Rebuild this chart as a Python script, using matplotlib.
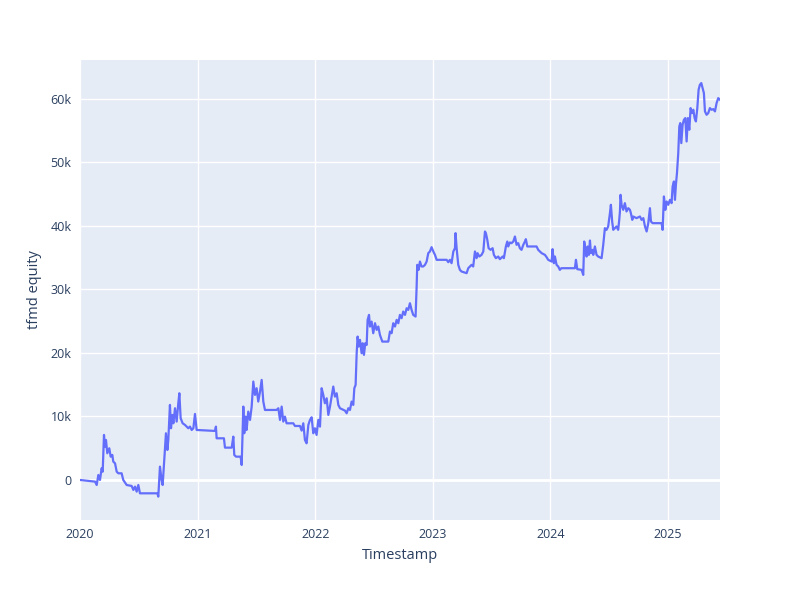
import numpy as np
import pandas as pd
import matplotlib
matplotlib.use("Agg")
import matplotlib.pyplot as plt
import matplotlib.dates as mdates
from matplotlib.ticker import FuncFormatter

plt.rcParams['font.family'] = ['Open Sans', 'DejaVu Sans']

# dates as decimal years, equity in thousands
annees = [
    2020.000, 2020.128, 2020.142, 2020.156, 2020.170, 2020.184, 2020.193, 2020.204, 2020.213, 2020.221,
    2020.232, 2020.249, 2020.261, 2020.275, 2020.283, 2020.298, 2020.312, 2020.326, 2020.354, 2020.368,
    2020.397, 2020.439, 2020.454, 2020.468, 2020.482, 2020.496, 2020.510, 2020.658, 2020.666, 2020.680,
    2020.694, 2020.703, 2020.714, 2020.723, 2020.731, 2020.743, 2020.751, 2020.765, 2020.774, 2020.785,
    2020.794, 2020.808, 2020.822, 2020.836, 2020.845, 2020.856, 2020.873, 2020.893, 2020.921, 2020.935,
    2020.950, 2020.964, 2020.978, 2020.992, 2021.148, 2021.156, 2021.162, 2021.224, 2021.233, 2021.290,
    2021.304, 2021.312, 2021.327, 2021.366, 2021.375, 2021.389, 2021.397, 2021.409, 2021.417, 2021.431,
    2021.446, 2021.460, 2021.474, 2021.488, 2021.502, 2021.516, 2021.531, 2021.545, 2021.559, 2021.573,
    2021.672, 2021.687, 2021.701, 2021.715, 2021.729, 2021.743, 2021.757, 2021.814, 2021.828, 2021.871,
    2021.885, 2021.899, 2021.913, 2021.927, 2021.942, 2021.956, 2021.970, 2021.984, 2021.998, 2022.012,
    2022.027, 2022.041, 2022.055, 2022.069, 2022.083, 2022.098, 2022.112, 2022.126,
    2022.154, 2022.168, 2022.183, 2022.197, 2022.211, 2022.253, 2022.268, 2022.282, 2022.296, 2022.310,
    2022.324, 2022.333, 2022.344, 2022.353, 2022.361, 2022.370, 2022.381, 2022.395, 2022.404, 2022.415,
    2022.426, 2022.438, 2022.446, 2022.458, 2022.466, 2022.480, 2022.494, 2022.509, 2022.523, 2022.537,
    2022.551, 2022.571, 2022.622, 2022.636, 2022.650, 2022.664, 2022.679, 2022.693, 2022.707, 2022.721,
    2022.735, 2022.749, 2022.764, 2022.778, 2022.792, 2022.806, 2022.820, 2022.834, 2022.854, 2022.863,
    2022.868, 2022.880, 2022.891, 2022.905, 2022.919, 2022.934, 2022.948, 2022.962, 2022.976, 2022.990,
    2023.005, 2023.019, 2023.033, 2023.118, 2023.132, 2023.146, 2023.160, 2023.175, 2023.189, 2023.194,
    2023.203, 2023.217, 2023.231, 2023.245, 2023.288, 2023.302, 2023.316,
    2023.330, 2023.344, 2023.359, 2023.373, 2023.381, 2023.396, 2023.415, 2023.430, 2023.444, 2023.452,
    2023.464, 2023.475, 2023.492, 2023.509, 2023.520, 2023.537, 2023.557, 2023.571, 2023.594, 2023.605,
    2023.622, 2023.634, 2023.642, 2023.656, 2023.670, 2023.685, 2023.699, 2023.713, 2023.727, 2023.741,
    2023.755, 2023.770, 2023.784, 2023.792, 2023.804, 2023.883, 2023.897, 2023.926, 2023.954, 2023.968,
    2023.982, 2024.011, 2024.019, 2024.030, 2024.039, 2024.053, 2024.067, 2024.081, 2024.093, 2024.209,
    2024.218, 2024.229, 2024.266, 2024.280, 2024.288, 2024.300, 2024.308, 2024.317, 2024.328, 2024.337,
    2024.345, 2024.359, 2024.365, 2024.379, 2024.393, 2024.407, 2024.436, 2024.450, 2024.464, 2024.478,
    2024.492, 2024.507, 2024.515, 2024.526, 2024.535, 2024.549, 2024.563, 2024.577, 2024.586, 2024.592,
    2024.597, 2024.606, 2024.620, 2024.634, 2024.648, 2024.663, 2024.677, 2024.685, 2024.697, 2024.705,
    2024.733, 2024.762,
    2024.776, 2024.791, 2024.805, 2024.819, 2024.833, 2024.847, 2024.856, 2024.870, 2024.946, 2024.955,
    2024.966, 2024.978, 2024.989, 2025.003, 2025.017, 2025.031, 2025.040, 2025.051, 2025.060, 2025.068,
    2025.077, 2025.088, 2025.097, 2025.105, 2025.114, 2025.125, 2025.136, 2025.148, 2025.159, 2025.170,
    2025.182, 2025.193, 2025.204, 2025.216, 2025.227, 2025.238, 2025.250, 2025.261, 2025.272, 2025.284,
    2025.295, 2025.306, 2025.315, 2025.329, 2025.343, 2025.357, 2025.371, 2025.386, 2025.400, 2025.414,
    2025.428, 2025.443,
]
equity_k = [
    0.00, -0.26, -0.79, 0.79, 0.00, 1.84, 1.31, 7.09, 5.25, 6.30,
    4.20, 4.99, 3.67, 3.94, 2.89, 2.62, 1.31, 1.05, 1.05, 0.00,
    -0.79, -0.94, -1.57, -1.05, -1.84, -0.79, -2.10, -2.10, -2.62, 2.10,
    0.00, -0.79, 2.36, 4.72, 7.35, 4.72, 6.30, 11.81, 8.14, 10.24,
    8.92, 11.29, 9.19, 12.07, 13.65, 9.71, 8.92, 8.66, 8.14, 8.40,
    7.87, 8.14, 10.39, 7.87, 7.72, 8.40, 6.56, 6.56, 5.09, 5.09,
    6.82, 3.94, 3.67, 3.67, 2.36, 11.55, 7.35, 9.97, 7.87, 10.76,
    9.45, 11.55, 15.49, 13.39, 14.44, 12.34, 13.91, 15.75, 12.34, 11.02,
    11.02, 11.29, 9.45, 11.55, 9.19, 9.97, 8.92, 8.92, 8.50, 8.50,
    7.77, 8.92, 6.30, 5.77, 8.66, 9.45, 9.87, 7.35, 8.14, 7.09,
    9.45, 8.40, 14.44, 13.39, 12.07, 12.86, 10.24, 11.55,
    14.70, 13.12, 13.65, 11.81, 11.29, 10.92, 10.50, 11.29, 11.02, 12.34,
    11.81, 14.44, 14.96, 19.95, 22.57, 21.00, 22.05, 19.95, 21.52, 19.69,
    21.52, 21.26, 25.20, 25.98, 24.15, 24.93, 23.10, 24.67, 23.62, 24.15,
    22.83, 21.78, 21.78, 23.36, 23.10, 24.67, 24.15, 25.20, 24.67, 25.98,
    25.46, 26.51, 25.98, 27.03, 26.77, 27.82, 26.77, 25.98, 25.72, 30.45,
    33.86, 33.07, 34.38, 33.60, 33.60, 33.86, 34.38, 35.70, 35.96, 36.64,
    35.96, 35.43, 34.65, 34.65, 34.28, 34.65, 34.12, 35.96, 36.48, 38.85,
    36.48, 33.86, 33.07, 32.81, 32.55, 33.33, 33.60,
    33.86, 33.60, 35.96, 34.91, 35.70, 35.17, 35.43, 35.96, 39.11, 38.85,
    37.80, 36.48, 36.22, 36.48, 35.43, 34.91, 35.17, 34.75, 35.17, 34.91,
    36.75, 37.53, 36.75, 37.38, 37.27, 37.53, 38.32, 37.01, 37.27, 36.48,
    36.22, 37.01, 37.53, 37.90, 36.75, 36.75, 36.22, 35.70, 35.43, 35.07,
    34.65, 34.38, 36.33, 34.12, 35.17, 33.86, 33.60, 33.07, 33.33, 33.33,
    34.65, 33.18, 33.07, 32.28, 37.53, 36.22, 35.17, 36.75, 35.43, 37.69,
    35.70, 36.22, 35.43, 36.75, 35.43, 35.17, 34.91, 37.01, 39.63, 39.37,
    39.90, 41.99, 43.31, 40.68, 39.37, 39.63, 39.90, 39.37, 40.94, 42.26,
    44.88, 43.31, 42.52, 43.57, 42.26, 42.78, 42.52, 41.99, 40.94, 41.47,
    41.21, 41.47,
    40.94, 41.21, 39.90, 39.11, 40.42, 42.78, 40.68, 40.42, 40.42, 39.37,
    44.62, 42.52, 43.83, 43.31, 44.09, 43.57, 46.19, 46.98, 44.09, 46.46,
    48.29, 51.44, 55.64, 56.17, 53.02, 55.91, 56.69, 56.96, 53.28, 56.96,
    55.12, 58.53, 57.74, 58.27, 56.96, 56.43, 58.53, 61.42, 62.20, 62.47,
    61.68, 60.89, 58.01, 57.48, 57.74, 58.53, 58.27, 58.37, 58.01, 59.32,
    60.10, 59.84,
]
annees_ticks = ["2020", "2021", "2022", "2023", "2024", "2025"]
valeurs_ticks = [0, 10000, 20000, 30000, 40000, 50000, 60000]

debut = pd.Timestamp("2020-01-01")
def en_date(a):
    return debut + pd.to_timedelta((np.asarray(a) - 2020) * 365.25, unit="D")

dates = en_date(annees)
equity = np.array(equity_k) * 1000

fig = plt.figure(figsize=(8, 6), dpi=100)
ax = fig.add_axes([0.1, 80 / 600, 0.8, 460 / 600])
ax.set_facecolor("#e5ecf6")

ax.plot(dates, equity, color="#636efa", lw=1.6, zorder=3)

ax.set_xlim(en_date(2020.0), en_date(2025.443))
ax.set_ylim(-6300, 66100)
ax.set_xticks(pd.to_datetime([a + "-01-01" for a in annees_ticks]))
ax.xaxis.set_major_formatter(mdates.DateFormatter("%Y"))
ax.set_yticks(valeurs_ticks)
ax.yaxis.set_major_formatter(FuncFormatter(lambda v, p: "0" if v == 0 else f"{int(v/1000)}k"))

ax.grid(True, color="white", lw=1)
ax.axhline(0, color="white", lw=2, zorder=2)
ax.set_axisbelow(True)
for s in ax.spines.values():
    s.set_visible(False)
ax.tick_params(length=0, labelsize=9, labelcolor="#2a3f5f", pad=6)
ax.set_xlabel("Timestamp", fontsize=10.5, color="#2a3f5f", labelpad=5)
ax.set_ylabel("tfmd equity", fontsize=10.5, color="#2a3f5f", labelpad=6)

fig.savefig("out.png", dpi=100)
